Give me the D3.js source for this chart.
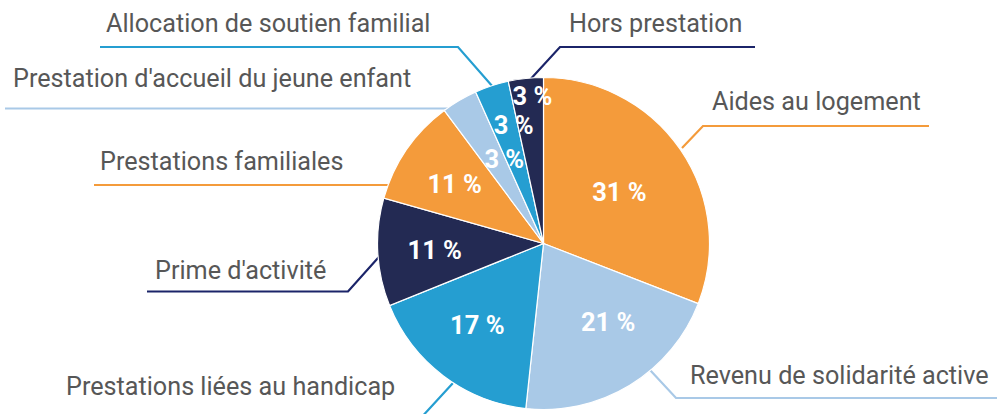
<!DOCTYPE html>
<html><head><meta charset="utf-8">
<script src="https://cdn.jsdelivr.net/npm/d3@7"></script>
<style>html,body{margin:0;padding:0;background:#fff;}svg{display:block;}</style>
</head><body>
<svg id="c" width="997" height="414"></svg>
<script>
// Data
const categories = ["Aides au logement","Revenu de solidarité active","Prestations liées au handicap","Prime d'activité","Prestations familiales","Prestation d'accueil du jeune enfant","Allocation de soutien familial","Hors prestation"];
const values = [30.9, 20.8, 17.2, 10.5, 10.4, 3.5, 3.3, 3.4];
const pctLabels = ["31 %","21 %","17 %","11 %","11 %","3 %","3 %","3 %"];

// Styles / layout
const colors = ["#F49B3B","#A9C9E7","#259ED1","#232A53","#F49B3B","#A9C9E7","#259ED1","#232A53"];
const lineColors = ["#F49B3B","#A9C9E7","#259ED1","#1B2469","#F49B3B","#A9C9E7","#259ED1","#1B2469"];
const cx = 543.5, cy = 243.5, R = 166;
// percent label placement: [angle offset (deg) from slice middle, radius]
const pctPlace = [[0,92],[-8,102],[2,105],[-0.6,109],[-0.7,107],[5.5,93],[4,122],[1.8,148]];
// category label layout: text x, baseline y, leader polyline
const labelLayout = [
  {x:712, y:110, pts:[[929,126],[703,126],[682,148]]},
  {x:690, y:384, pts:[[997,398],[676,398],[650,370]]},
  {x:66,  y:395, pts:[[60,420],[419,420],[453,383]]},
  {x:155, y:279, pts:[[147,291.5],[348,291.5],[386,249]]},
  {x:100, y:170, pts:[[94,185],[395,185]]},
  {x:13,  y:87,  pts:[[5,108.5],[450,108.5]]},
  {x:106, y:32,  pts:[[100,47],[458,47],[493,87]]},
  {x:569, y:32,  pts:[[755,47],[560,47],[527,83]]}
];

const svg = d3.select("#c");
const pie = d3.pie().sort(null).value(d => d)(values);
const arc = d3.arc().innerRadius(0).outerRadius(R);

// leader lines (behind pie)
const line = d3.line();
svg.append("g").selectAll("path").data(labelLayout).join("path")
  .attr("d", d => line(d.pts))
  .attr("fill","none")
  .attr("stroke",(d,i)=>lineColors[i])
  .attr("stroke-width",2.2);

const g = svg.append("g").attr("transform",`translate(${cx},${cy})`);
g.selectAll("path").data(pie).join("path")
  .attr("d", arc)
  .attr("fill",(d,i)=>colors[i])
  .attr("stroke","#fff")
  .attr("stroke-width",1.2);

g.selectAll("text").data(pie).join("text")
  .attr("x",(d,i)=>{const a=(d.startAngle+d.endAngle)/2 + pctPlace[i][0]*Math.PI/180; return Math.sin(a)*pctPlace[i][1];})
  .attr("y",(d,i)=>{const a=(d.startAngle+d.endAngle)/2 + pctPlace[i][0]*Math.PI/180; return -Math.cos(a)*pctPlace[i][1];})
  .attr("text-anchor","middle")
  .attr("dominant-baseline","central")
  .attr("fill","#fff")
  .attr("font-family","Roboto")
  .attr("font-weight","bold")
  .attr("font-size",25.5)
  .text((d,i)=>pctLabels[i]);

svg.append("g").selectAll("text").data(categories).join("text")
  .attr("x",(d,i)=>labelLayout[i].x)
  .attr("y",(d,i)=>labelLayout[i].y)
  .attr("fill","#575757")
  .attr("font-family","Roboto")
  .attr("font-size",25.2)
  .text(d=>d);
</script>
</body></html>
